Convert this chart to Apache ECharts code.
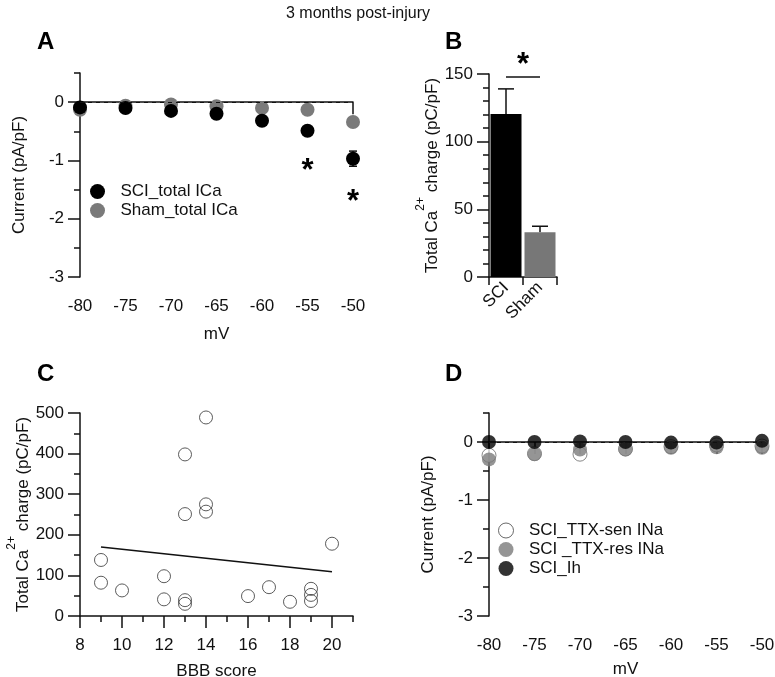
<!DOCTYPE html>
<html>
<head>
<meta charset="utf-8">
<script src="https://cdn.jsdelivr.net/npm/echarts@6/dist/echarts.min.js"></script>
<style>
  html, body { margin: 0; padding: 0; background: #fff; }
  #main { width: 775px; height: 677px; }
</style>
</head>
<body>
<div id="main"></div>
<script>
// panel A: total ICa, 3 months
const mv = [-80, -75, -70, -65, -60, -55, -50];
const sciCa = [-0.09, -0.10, -0.15, -0.20, -0.32, -0.49, -0.97];
const sciCaErr = [0.03, 0.03, 0.03, 0.04, 0.05, 0.06, 0.13];
const shamCa = [-0.13, -0.06, -0.04, -0.07, -0.10, -0.13, -0.34];
const shamCaErr = [0.02, 0.02, 0.02, 0.02, 0.03, 0.03, 0.06];
const starsA = [[-55, -1.10], [-50, -1.64]];

// panel B: total charge
const groups = ['SCI', 'Sham'];
const charge = [120.5, 33];
const chargeErr = [18.5, 4.5];

// panel C: charge vs BBB score
const bbb =    [9,   9,  10, 12, 12, 13, 13, 13,  13,  14,  14,  14,  16, 17, 18, 19, 19, 19, 20];
const chargeC = [138, 82, 63, 98, 41, 39, 30, 251, 398, 489, 275, 257, 49, 71, 35, 67, 52, 37, 178];
const fitX = [9, 20];
const fitY = [170, 109];

// panel D: other currents
const ttxSen = [-0.23, -0.20, -0.21, -0.12, -0.08, -0.05, -0.07];
const ttxRes = [-0.30, -0.21, -0.13, -0.13, -0.10, -0.09, -0.10];
const ih = [0, 0, 0.01, 0, -0.01, -0.01, 0.02];

const ink = '#111';
const grey = '#7a7a7a';
const font = 'Liberation Sans';

function pts(xs, ys) { return xs.map((x, i) => [x, ys[i]]); }

function errBars(xi, yi, xs, ys, es, cap, upOnly) {
    return {
        type: 'custom', xAxisIndex: xi, yAxisIndex: yi, z: 1, silent: true,
        renderItem: (p, api) => {
            const x = api.value(0), y = api.value(1), e = api.value(2);
            const hi = api.coord([x, y + e]);
            const lo = api.coord([x, upOnly ? y : y - e]);
            const st = { stroke: ink, lineWidth: 1.5 };
            const kids = [
                { type: 'line', shape: { x1: hi[0], y1: hi[1], x2: lo[0], y2: lo[1] }, style: st },
                { type: 'line', shape: { x1: hi[0] - cap, y1: hi[1], x2: hi[0] + cap, y2: hi[1] }, style: st }
            ];
            if (!upOnly) kids.push({ type: 'line', shape: { x1: lo[0] - cap, y1: lo[1], x2: lo[0] + cap, y2: lo[1] }, style: st });
            return { type: 'group', children: kids };
        },
        data: xs.map((x, i) => [x, ys[i], es[i]])
    };
}

const axLine = { show: true, lineStyle: { color: ink, width: 1.5 } };
const lbl = { color: ink, fontSize: 17, fontFamily: font, margin: 16 };

function majorAx(grid, min, max, ticks, extra) {
    return Object.assign({
        type: 'value', gridIndex: grid, min: min, max: max,
        axisLine: axLine, splitLine: { show: false },
        axisTick: { show: true, length: 12, customValues: ticks, lineStyle: { color: ink, width: 1.5 } },
        axisLabel: Object.assign({ customValues: ticks }, lbl),
        nameTextStyle: { color: ink, fontSize: 17, fontFamily: font }
    }, extra || {});
}
function minorAx(grid, min, max, ticks, pos) {
    return {
        type: 'value', gridIndex: grid, min: min, max: max, position: pos, offset: 0,
        axisLine: { show: false }, splitLine: { show: false }, axisLabel: { show: false },
        axisTick: { show: true, length: 6, customValues: ticks, lineStyle: { color: ink, width: 1.5 } }
    };
}
function xLbl(ticks) { return Object.assign({ customValues: ticks }, lbl, { margin: 21 }); }

const caName = '{n|Total Ca}{s|2+}{n| charge (pC/pF)}';
const caRich = {
    n: { fontSize: 17, fontFamily: font, color: ink, lineHeight: 26, verticalAlign: 'bottom' },
    s: { fontSize: 12, fontFamily: font, color: ink, lineHeight: 26, verticalAlign: 'top' }
};
const starLabel = { show: true, formatter: '*', fontSize: 31, fontWeight: 'bold', color: '#000',
    textBorderWidth: 0, opacity: 1 };
const legendText = { fontSize: 17, color: ink, fontFamily: font, padding: [0, 0, 0, 3], lineHeight: 17 };
const bbbTicks = [8, 10, 12, 14, 16, 18, 20];

const chart = echarts.init(document.getElementById('main'), null, { renderer: 'canvas' });
chart.setOption({
    animation: false,
    backgroundColor: '#fff',
    textStyle: { fontFamily: font, color: ink },
    title: { text: '3 months post-injury', left: 353, top: 1, textAlign: 'center',
        textStyle: { fontSize: 16, fontWeight: 'normal', color: ink, fontFamily: font } },
    graphic: [
        { type: 'text', left: 37, top: 30, style: { text: 'A', fontSize: 24, fontWeight: 'bold', fill: '#000', fontFamily: font } },
        { type: 'text', left: 445, top: 30, style: { text: 'B', fontSize: 24, fontWeight: 'bold', fill: '#000', fontFamily: font } },
        { type: 'text', left: 37, top: 362, style: { text: 'C', fontSize: 24, fontWeight: 'bold', fill: '#000', fontFamily: font } },
        { type: 'text', left: 445, top: 362, style: { text: 'D', fontSize: 24, fontWeight: 'bold', fill: '#000', fontFamily: font } }
    ],
    legend: [
        { data: ['SCI_total ICa', 'Sham_total ICa'], orient: 'vertical', left: 85, top: 178,
          icon: 'circle', itemWidth: 30, itemHeight: 15, itemGap: 2, selectedMode: false, textStyle: legendText },
        { data: [{ name: 'SCI_TTX-sen INa', itemStyle: { borderWidth: 1, borderColor: '#444' } }, 'SCI _TTX-res INa', 'SCI_Ih'],
          orient: 'vertical', left: 493, top: 517,
          icon: 'circle', itemWidth: 30, itemHeight: 15, itemGap: 2, selectedMode: false, textStyle: legendText }
    ],
    grid: [
        { left: 80, top: 73, width: 273, height: 204, outerBoundsMode: 'none' },
        { left: 489, top: 74, width: 68, height: 203, outerBoundsMode: 'none' },
        { left: 80, top: 413, width: 273, height: 203, outerBoundsMode: 'none' },
        { left: 489, top: 413, width: 273, height: 203, outerBoundsMode: 'none' }
    ],
    xAxis: [
        majorAx(0, -80, -50, mv, { position: 'bottom', name: 'mV', nameLocation: 'middle', nameGap: 49, axisLabel: xLbl(mv) }),
        { type: 'category', gridIndex: 1, position: 'bottom', data: groups, axisLine: axLine,
          axisTick: { show: true, length: 8, lineStyle: { color: ink, width: 1.5 } },
          axisLabel: { color: ink, fontSize: 17, fontFamily: font, rotate: 45, margin: 8 } },
        majorAx(2, 8, 21, bbbTicks, { position: 'bottom', name: 'BBB score', nameLocation: 'middle', nameGap: 47, axisLabel: xLbl(bbbTicks) }),
        minorAx(2, 8, 21, [9, 11, 13, 15, 17, 19, 21], 'bottom'),
        majorAx(3, -80, -50, mv, { position: 'bottom', name: 'mV', nameLocation: 'middle', nameGap: 45, axisLabel: xLbl(mv) })
    ],
    yAxis: [
        majorAx(0, -3, 0.5, [-3, -2, -1, 0], { position: 'left', name: 'Current (pA/pF)', nameLocation: 'middle', nameGap: 52 }),
        minorAx(0, -3, 0.5, [-2.5, -1.5, -0.5, 0.5], 'left'),
        majorAx(1, 0, 150, [0, 50, 100, 150], { position: 'left', name: caName, nameLocation: 'middle', nameGap: 44,
            nameTextStyle: { rich: caRich } }),
        minorAx(1, 0, 150, [10, 20, 30, 40, 60, 70, 80, 90, 110, 120, 130, 140], 'left'),
        majorAx(2, 0, 500, [0, 100, 200, 300, 400, 500], { position: 'left', name: caName, nameLocation: 'middle', nameGap: 46,
            nameTextStyle: { rich: caRich } }),
        minorAx(2, 0, 500, [50, 150, 250, 350, 450], 'left'),
        majorAx(3, -3, 0.5, [-3, -2, -1, 0], { position: 'left', name: 'Current (pA/pF)', nameLocation: 'middle', nameGap: 52 }),
        minorAx(3, -3, 0.5, [-2.5, -1.5, -0.5, 0.5], 'left')
    ],
    series: [
        // A
        errBars(0, 0, mv, shamCa, shamCaErr, 4, false),
        errBars(0, 0, mv, sciCa, sciCaErr, 4, false),
        { name: 'Sham_total ICa', type: 'scatter', xAxisIndex: 0, yAxisIndex: 0, z: 3,
          symbolSize: 14, itemStyle: { color: grey, opacity: 1 }, data: pts(mv, shamCa),
          markLine: { silent: true, symbol: 'none', label: { show: false },
              lineStyle: { color: ink, type: [4, 4], width: 1.2 },
              data: [[{ coord: [-80, 0] }, { coord: [-50, 0] }]] } },
        { name: 'SCI_total ICa', type: 'scatter', xAxisIndex: 0, yAxisIndex: 0, z: 4,
          symbolSize: 14, itemStyle: { color: '#000', opacity: 1 }, data: pts(mv, sciCa) },
        { type: 'scatter', xAxisIndex: 0, yAxisIndex: 0, symbolSize: 1, silent: true, data: starsA, z: 5,
          itemStyle: { color: '#fff', opacity: 0 },
          label: Object.assign({ position: 'top', distance: 0, offset: [0, 21] }, starLabel) },
        // B
        { type: 'bar', xAxisIndex: 1, yAxisIndex: 2, barWidth: 31, z: 2,
          data: charge.map((v, i) => ({ value: v, itemStyle: { color: i === 0 ? '#000' : '#777' } })),
          markLine: { silent: true, symbol: 'none', lineStyle: { color: ink, width: 1.5, type: 'solid' },
              label: Object.assign({ position: 'middle', distance: -4 }, starLabel),
              data: [[{ coord: ['SCI', 148] }, { coord: ['Sham', 148] }]] } },
        errBars(1, 2, [0, 1], charge, chargeErr, 8, true),
        // C
        { type: 'scatter', xAxisIndex: 2, yAxisIndex: 4, symbolSize: 13,
          itemStyle: { color: 'rgba(255,255,255,0)', borderColor: '#333', borderWidth: 1 }, data: pts(bbb, chargeC) },
        { type: 'line', xAxisIndex: 2, yAxisIndex: 4, showSymbol: false, silent: true,
          lineStyle: { color: ink, width: 1.5 }, data: pts(fitX, fitY) },
        // D
        { name: 'SCI_TTX-sen INa', type: 'scatter', xAxisIndex: 4, yAxisIndex: 6, z: 2, symbolSize: 14,
          itemStyle: { color: '#fff', borderColor: '#444', borderWidth: 0.8 }, data: pts(mv, ttxSen),
          markLine: { silent: true, symbol: 'none', label: { show: false },
              lineStyle: { color: ink, type: [4, 4], width: 1.2 },
              data: [[{ coord: [-80, 0] }, { coord: [-50, 0] }]] } },
        { name: 'SCI _TTX-res INa', type: 'scatter', xAxisIndex: 4, yAxisIndex: 6, z: 3, symbolSize: 14,
          itemStyle: { color: grey }, data: pts(mv, ttxRes) },
        { name: 'SCI_Ih', type: 'scatter', xAxisIndex: 4, yAxisIndex: 6, z: 4, symbolSize: 14,
          itemStyle: { color: '#000' }, data: pts(mv, ih) }
    ]
});
</script>
</body>
</html>
